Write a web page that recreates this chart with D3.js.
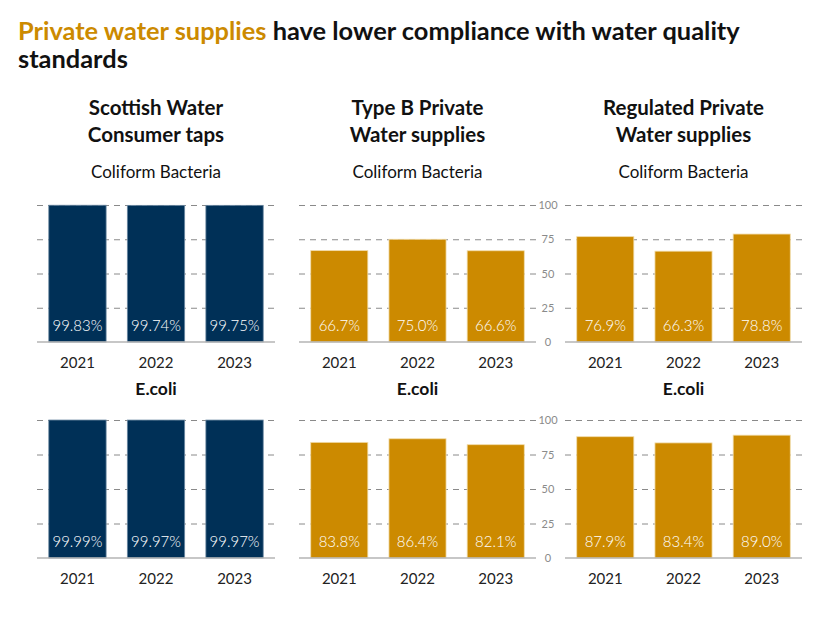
<!DOCTYPE html>
<html>
<head>
<meta charset="utf-8">
<script src="https://cdn.jsdelivr.net/npm/d3@7"></script>
<style>
  body { margin: 0; background: #fff; }
  text { font-family: Lato, "Noto Sans", sans-serif; }
</style>
</head>
<body>
<div id="chart"></div>
<script>
// ---- data ----
const years = ["2021", "2022", "2023"];
const suppliers = [
    ["Scottish Water", "Consumer taps"],
    ["Type B Private", "Water supplies"],
    ["Regulated Private", "Water supplies"]
];
const parameters = ["Coliform Bacteria", "E.coli"];

const scottishColiform = [99.83, 99.74, 99.75];
const typeBColiform = [66.7, 75.0, 66.6];
const regulatedColiform = [76.9, 66.3, 78.8];

const scottishEcoli = [99.99, 99.97, 99.97];
const typeBEcoli = [83.8, 86.4, 82.1];
const regulatedEcoli = [87.9, 83.4, 89.0];

const valueTicks = [0, 25, 50, 75, 100];

const values = [
    [scottishColiform, typeBColiform, regulatedColiform],
    [scottishEcoli, typeBEcoli, regulatedEcoli]
];
const decimals = [2, 1, 1];
const colours = ["#003057", "#cc8a00", "#cc8a00"];

// ---- layout ----
const WIDTH = 840, HEIGHT = 630;
const panelX = [[37, 275], [299, 536], [565, 802]];
const rowY = [[205, 342], [420, 558]];   // [top (100), baseline (0)]
const subtitleY = [178, 395];

const svg = d3.select("#chart").append("svg")
    .attr("width", WIDTH)
    .attr("height", HEIGHT);

// Title
const title = svg.append("text")
    .attr("x", 18)
    .attr("y", 40)
    .style("font-size", "25.4px")
    .style("font-weight", "700");
title.append("tspan").attr("fill", "#cc8a00").text("Private water supplies");
title.append("tspan").attr("fill", "#111").text(" have lower compliance with water quality");
svg.append("text")
    .attr("x", 18)
    .attr("y", 68)
    .style("font-size", "25.4px")
    .style("font-weight", "700")
    .attr("fill", "#111")
    .text("standards");

suppliers.forEach((lines, p) => {
    const x = d3.scaleBand()
        .domain(years)
        .range(panelX[p])
        .paddingInner(0.27)
        .paddingOuter(0.15);
    const cx = (panelX[p][0] + panelX[p][1]) / 2;

    // Panel heading
    lines.forEach((line, i) => {
        svg.append("text")
            .attr("x", cx)
            .attr("y", 115 + i * 26.5)
            .attr("text-anchor", "middle")
            .style("font-size", "20.5px")
            .style("font-weight", "700")
            .attr("fill", "#111")
            .text(line);
    });

    parameters.forEach((param, r) => {
        const y = d3.scaleLinear().domain([0, 100]).range([rowY[r][1], rowY[r][0]]);
        const g = svg.append("g");

        g.append("text")
            .attr("x", cx)
            .attr("y", subtitleY[r])
            .attr("text-anchor", "middle")
            .style("font-size", r === 0 ? "17px" : "17.5px")
            .style("font-weight", r === 0 ? "400" : "700")
            .attr("fill", "#111")
            .text(param);

        // Gridlines
        const grid = d3.axisLeft(y)
            .tickValues(valueTicks.filter(d => d > 0))
            .tickSize(-(panelX[p][1] - panelX[p][0]))
            .tickFormat("");
        g.append("g")
            .attr("transform", `translate(${panelX[p][0]},0)`)
            .call(grid)
            .call(a => a.select(".domain").remove())
            .call(a => a.selectAll("line")
                .attr("stroke", "#8a8a8a")
                .attr("stroke-dasharray", "6,5"));

        // Bars
        g.selectAll("rect")
            .data(values[r][p])
            .join("rect")
            .attr("x", (d, i) => x(years[i]))
            .attr("y", d => y(d))
            .attr("width", x.bandwidth())
            .attr("height", d => y(0) - y(d))
            .attr("fill", colours[p])
            .attr("stroke", p === 0 ? "#6d8aa3" : "#f1dcaa")
            .attr("stroke-width", 0.8);

        // Baseline
        g.append("line")
            .attr("x1", panelX[p][0])
            .attr("x2", panelX[p][1])
            .attr("y1", y(0))
            .attr("y2", y(0))
            .attr("stroke", "#b5b5b5")
            .attr("stroke-width", 1.5);

        // Value labels
        g.selectAll(".val")
            .data(values[r][p])
            .join("text")
            .attr("class", "val")
            .attr("x", (d, i) => x(years[i]) + x.bandwidth() / 2)
            .attr("y", y(0) - 11.5)
            .attr("text-anchor", "middle")
            .style("font-size", "15px")
            .style("font-weight", "300")
            .attr("fill", "#fff")
            .text(d => d.toFixed(decimals[p]) + "%");

        // Year labels
        const xAxis = d3.axisBottom(x).tickSize(0).tickPadding(15);
        g.append("g")
            .attr("transform", `translate(0,${y(0)})`)
            .call(xAxis)
            .call(a => a.select(".domain").remove())
            .call(a => a.selectAll("text")
                .style("font-size", "15px")
                .style("font-family", "Lato, 'Noto Sans', sans-serif")
                .attr("fill", "#222"));

        // Value axis between panel 2 and 3
        if (p === 2) {
            g.selectAll(".tick-lbl")
                .data(valueTicks)
                .join("text")
                .attr("class", "tick-lbl")
                .attr("x", 548)
                .attr("y", d => y(d) + 4)
                .attr("text-anchor", "middle")
                .style("font-size", "11px")
                .attr("fill", "#8a8a8a")
                .text(d => d);
        }
    });
});
</script>
</body>
</html>
